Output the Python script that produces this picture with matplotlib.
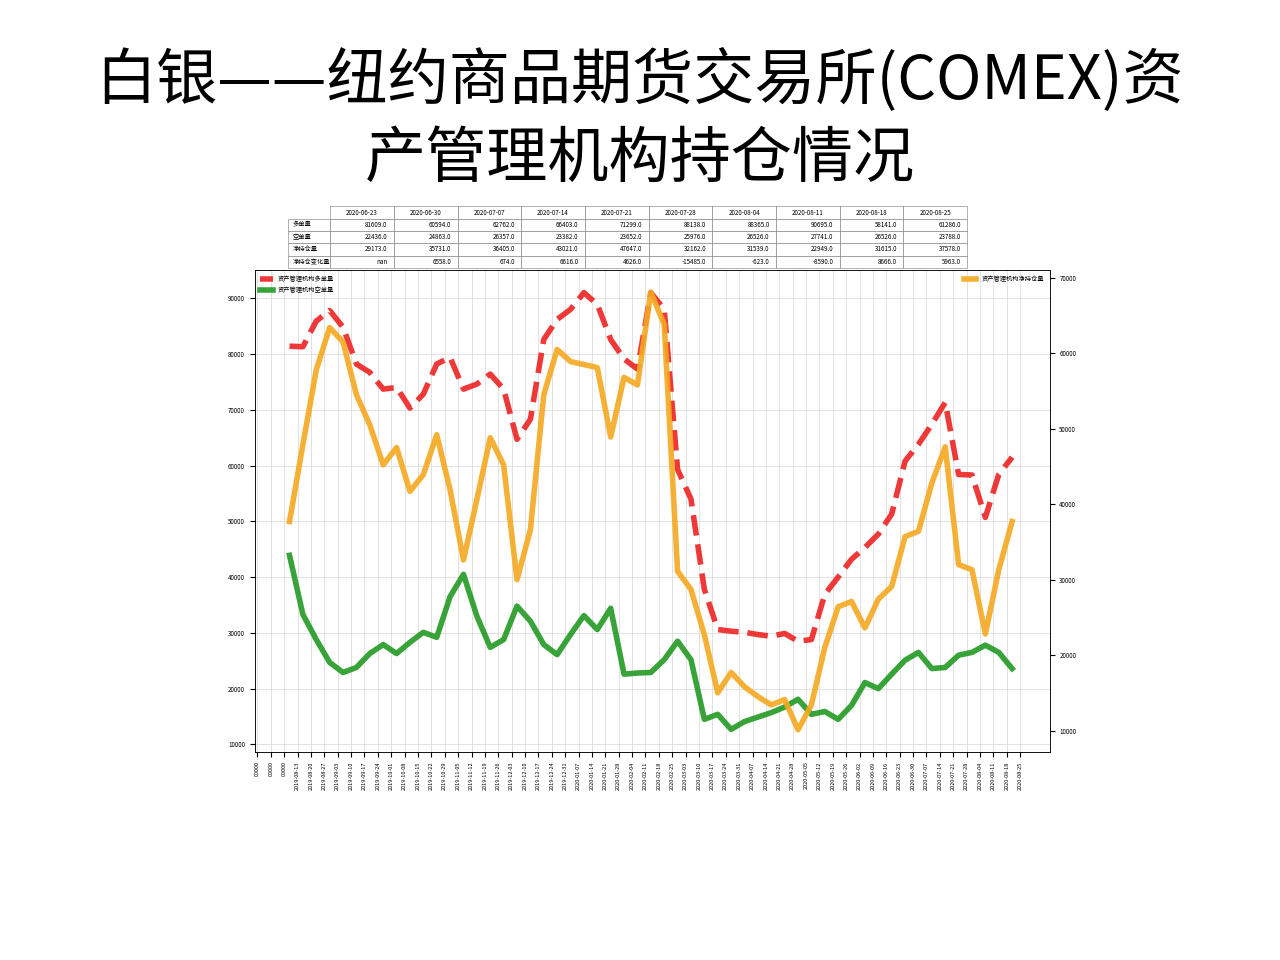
import matplotlib
matplotlib.use("Agg")
import matplotlib.pyplot as plt
import numpy as np
import pandas as pd

plt.rcParams['font.family'] = ['Noto Sans CJK SC', 'DejaVu Sans']

dates = [d.strftime('%Y-%m-%d') for d in pd.date_range('2019-08-13', periods=55, freq='7D')]
long_pos = [81400,81300,85900,87800,84800,78200,76700,73700,74000,70300,72800,78200,79400,73700,74600,76400,
            73700,64700,68300,82600,86200,88000,91000,88900,82600,79100,77300,91000,88000,59300,54000,37800,
            30600,30300,30100,29700,29400,29900,28500,28800,36900,40000,43200,45300,47700,51300,60800,63800,
            67400,71300,58400,58300,50700,58400,61500]
short_pos = [43900,33300,28800,24700,22900,23800,26300,27900,26300,28300,30100,29200,36500,40500,33000,27400,
             28800,34800,32100,27900,26100,29700,33100,30600,34400,22600,22800,22900,25200,28500,25200,14500,
             15400,12700,14100,14900,15700,16700,18100,15400,15900,14500,17000,21100,20000,22600,25100,26500,
             23600,23800,26000,26500,27800,26500,23600]
net_pos = [37700,47900,57800,63400,61500,54500,50500,45200,47500,41700,43900,49200,41900,32600,40600,48800,
           45200,30000,36600,54500,60500,58900,58500,58100,48900,56800,55800,68100,63800,31100,28700,22700,
           15000,17700,15800,14500,13400,14100,10100,13400,21000,26400,27100,23600,27400,29100,35700,36400,
           42800,47600,32000,31300,22800,31300,37700]

tbl_cols = ['2020-06-23','2020-06-30','2020-07-07','2020-07-14','2020-07-21','2020-07-28','2020-08-04',
            '2020-08-11','2020-08-18','2020-08-25']
tbl_rows = ['多单量','空单量','净持仓量','净持仓变化量']
tbl_vals = [
    ['81609.0','60594.0','62762.0','66403.0','71299.0','88138.0','88365.0','90695.0','58141.0','61286.0'],
    ['22436.0','24863.0','26357.0','23382.0','23652.0','25976.0','26526.0','27741.0','26526.0','23788.0'],
    ['29173.0','35731.0','36405.0','43021.0','47647.0','32162.0','31539.0','22949.0','31615.0','37578.0'],
    ['nan','6558.0','674.0','6616.0','4626.0','-15485.0','-623.0','-8590.0','8666.0','5963.0'],
]

fig = plt.figure(figsize=(12.8, 9.6), dpi=100)
fig.text(0.5, 0.875, '白银——纽约商品期货交易所(COMEX)资\n产管理机构持仓情况', ha='center', va='center',
         fontsize=44, linespacing=1.3)

tax = fig.add_axes([0.223, 0.721, 0.535, 0.064])
tax.axis('off')
t = tax.table(cellText=tbl_vals, rowLabels=tbl_rows, colLabels=tbl_cols, loc='center',
              bbox=[0.07, 0, 0.93, 1], cellLoc='right')
t.auto_set_font_size(False)
t.set_fontsize(4.5)
for (r, c), cell in t.get_celld().items():
    cell.set_linewidth(0.4)
    cell.set_edgecolor('#777777')
    if r == 0:
        cell.set_text_props(ha='center')
    if c == -1:
        cell.set_text_props(ha='left')

ax = fig.add_axes([0.199, 0.217, 0.621, 0.502])
x = np.arange(len(dates))
ax.plot(x, long_pos, color='#ee2222', lw=4, ls='--', alpha=0.9, label='资产管理机构多单量')
ax.plot(x, short_pos, color='#229922', lw=4, alpha=0.9, label='资产管理机构空单量')
ax.set_ylim(8700, 95100)
ax.set_xlim(-2.6, 56.8)
ax.grid(True, color='#dddddd', lw=0.6)
ticks = list(np.arange(-3, 55) + 0.6)
ax.set_xticks(ticks)
ax.set_xticklabels(['00000'] * 3 + dates, rotation=90, fontsize=4)
ax.tick_params(axis='y', labelsize=4.5)
ax.legend(loc='upper left', fontsize=4.5, frameon=False)
ax2 = ax.twinx()
ax2.plot(x, net_pos, color='#f5a820', lw=4, alpha=0.9, label='资产管理机构净持仓量')
ax2.set_ylim(7200, 71060)
ax2.set_yticks(range(10000, 70001, 10000))
ax2.tick_params(axis='y', labelsize=4.5)
ax2.legend(loc='upper right', fontsize=4.5, frameon=False)
for a in (ax, ax2):
    for s in a.spines.values():
        s.set_linewidth(0.5)

fig.savefig('out.png', dpi=100)
